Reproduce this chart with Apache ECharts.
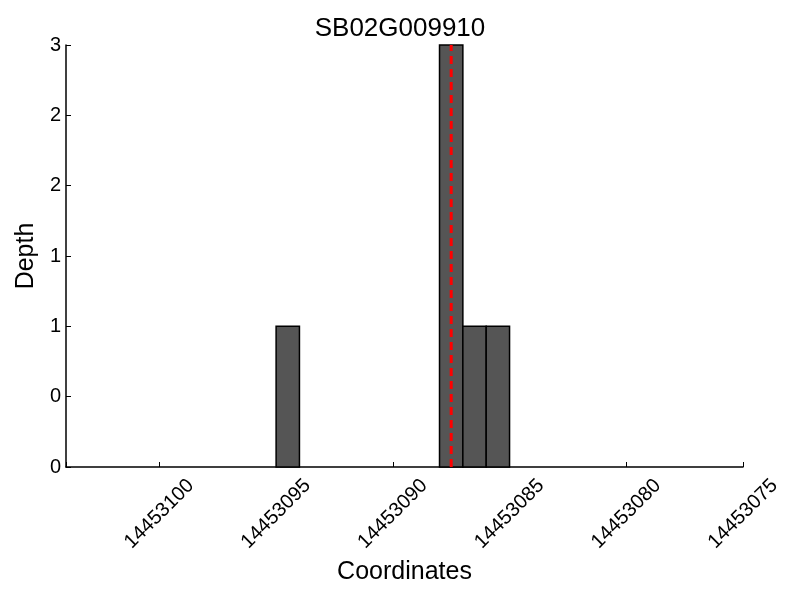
<!DOCTYPE html>
<html>
<head>
<meta charset="utf-8">
<script src="https://cdn.jsdelivr.net/npm/echarts@6/dist/echarts.min.js"></script>
<style>
  html, body { margin: 0; padding: 0; background: #fff; }
  #chart { width: 800px; height: 600px; }
</style>
</head>
<body>
<div id="chart"></div>
<script>
// depth bins: [start, end] coordinates and read depth
var binStart = [14453095, 14453088, 14453087, 14453086];
var binEnd = [14453094, 14453087, 14453086, 14453085];
var binDepth = [1, 3, 1, 1];
var markerPos = 14453087.5; // red dashed marker
var xMin = 14453075;
var xMax = 14453104;

var bins = binStart.map(function (s, i) {
  return [s, binEnd[i], binDepth[i]];
});

var chart = echarts.init(document.getElementById("chart"));
var font = "Liberation Sans";

var option = {
  animation: false,
  title: {
    text: "SB02G009910",
    left: "center",
    top: 11,
    textStyle: { fontFamily: font, fontSize: 26, fontWeight: "normal", color: "#000" }
  },
  grid: { left: 66, right: 57, top: 45, bottom: 133 },
  xAxis: {
    type: "value",
    inverse: true,
    min: xMin,
    max: xMax,
    interval: 5,
    name: "Coordinates",
    nameLocation: "middle",
    nameGap: 88,
    nameTextStyle: { fontFamily: font, fontSize: 25, color: "#000" },
    axisLine: { lineStyle: { color: "#000", width: 1.5 } },
    axisTick: { inside: true, length: 5, lineStyle: { color: "#000" } },
    splitLine: { show: false },
    axisLabel: {
      rotate: 45,
      align: "center",
      verticalAlign: "middle",
      margin: 47,
      fontFamily: font,
      fontSize: 20,
      color: "#000",
      formatter: function (v) {
        return v % 5 === 0 ? String(v) : "";
      }
    }
  },
  yAxis: {
    type: "value",
    min: 0,
    max: 3,
    interval: 0.5,
    name: "Depth",
    nameLocation: "middle",
    nameGap: 27,
    nameTextStyle: { fontFamily: font, fontSize: 25, color: "#000" },
    axisLine: { show: true, lineStyle: { color: "#000", width: 1.5 } },
    axisTick: { show: true, inside: true, length: 5, lineStyle: { color: "#000" } },
    splitLine: { show: false },
    axisLabel: {
      margin: 5,
      fontFamily: font,
      fontSize: 20,
      color: "#000",
      formatter: function (v) {
        return String(Math.floor(v));
      }
    }
  },
  series: [
    {
      type: "custom",
      data: bins,
      encode: { x: [0, 1], y: 2 },
      renderItem: function (params, api) {
        var p0 = api.coord([api.value(0), api.value(2)]);
        var p1 = api.coord([api.value(1), 0]);
        return {
          type: "rect",
          shape: {
            x: Math.min(p0[0], p1[0]),
            y: p0[1],
            width: Math.abs(p1[0] - p0[0]),
            height: p1[1] - p0[1]
          },
          style: { fill: "#555555", stroke: "#000", lineWidth: 1.5 }
        };
      }
    },
    {
      type: "line",
      data: [[markerPos, 0], [markerPos, 3]],
      symbol: "none",
      z: 5,
      lineStyle: { color: "#ff0000", width: 3, type: [8, 5] }
    }
  ]
};

chart.setOption(option);
</script>
</body>
</html>
